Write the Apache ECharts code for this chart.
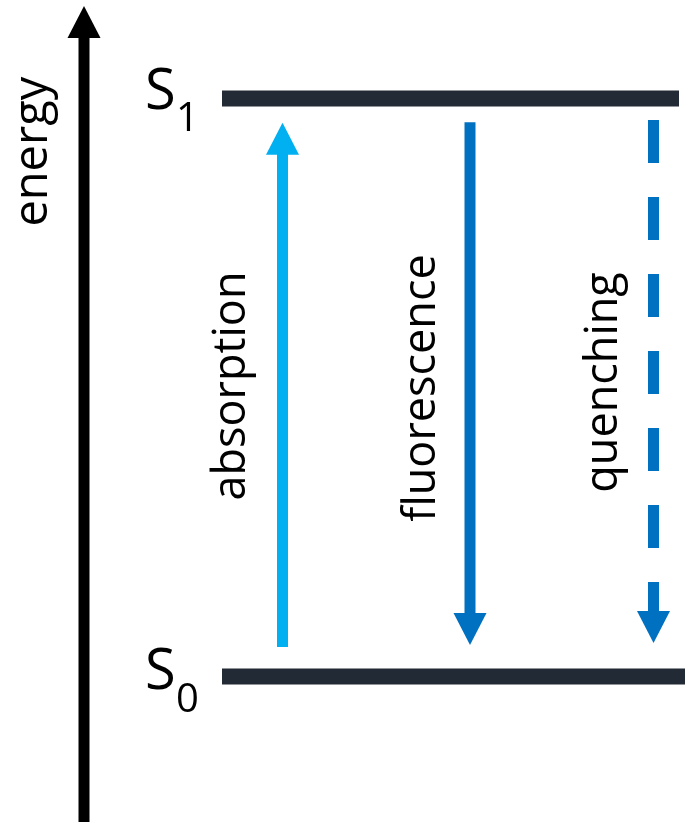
<!DOCTYPE html>
<html><head><meta charset="utf-8">
<script src="https://cdn.jsdelivr.net/npm/echarts@6/dist/echarts.min.js"></script>
<style>html,body{margin:0;padding:0;background:#fff}#c{width:685px;height:822px}</style>
</head><body><div id="c"></div>
<script>
// ---------- data ----------
const levelSymbols = ['S', 'S'];
const levelSubscripts = ['0', '1'];
const levelEnergies = [0, 1];
const transitionNames = ['absorption', 'fluorescence', 'quenching'];
const transitionFrom = [0.051, 0.959, 0.963];
const transitionTo = [0.958, 0.0545, 0.058];
const axisName = 'energy';
const axisFrom = -0.2517;
const axisTo = 1.160;

// ---------- layout / style ----------
const yMin = -0.2517, yMax = 1.1704;
const levelXStart = [222, 222];
const levelXEnd = [685, 679];
const levelColor = '#222a35';
const levelWidth = 16;
const transitionX = [282.5, 470, 653.5];
const transitionColor = ['#00b0f0', '#0070c0', '#0070c0'];
const transitionDash = [null, null, [43, 34]];
const transitionLabelX = [232, 422, 604];
const transitionLabelE = [0.5026, 0.4991, 0.5087];
const shaftWidth = 11, headLen = 32, headW = 33;
const axisX = 84, axisLabelX = 34, axisLabelE = 0.908;
const FONT = '"Open Sans", "Noto Sans", sans-serif';

function arrow(api, x, e0, e1, color, dash) {
  const p0 = api.coord([x, e0]);
  const p1 = api.coord([x, e1]);
  const dir = p1[1] > p0[1] ? 1 : -1;
  const baseY = p1[1] - dir * headLen;
  return [
    {type: 'line', shape: {x1: p0[0], y1: p0[1], x2: p1[0], y2: baseY + dir * 1},
     style: {stroke: color, lineWidth: shaftWidth, lineDash: dash || null, lineCap: 'butt'}},
    {type: 'polygon', shape: {points: [[p1[0] - headW / 2, baseY], [p1[0] + headW / 2, baseY], [p1[0], p1[1]]]},
     style: {fill: color}}
  ];
}

const chart = echarts.init(document.getElementById('c'), null, {renderer: 'canvas'});
chart.setOption({
  animation: false,
  backgroundColor: '#ffffff',
  grid: {left: 0, right: 0, top: 0, bottom: 0},
  xAxis: {type: 'value', min: 0, max: 685, show: false},
  yAxis: {type: 'value', min: yMin, max: yMax, show: false},
  series: [
    {
      type: 'custom', clip: false,
      data: levelEnergies.map((e, i) => [i, e]),
      renderItem: function (params, api) {
        const i = api.value(0), e = api.value(1);
        const a = api.coord([levelXStart[i], e]);
        const b = api.coord([levelXEnd[i], e]);
        return {type: 'group', children: [
          {type: 'line', shape: {x1: a[0], y1: a[1], x2: b[0], y2: b[1]},
           style: {stroke: levelColor, lineWidth: levelWidth}},
          {type: 'text', x: 145, y: a[1] - 5 + (i === 0 ? 1.5 : 0),
           style: {text: levelSymbols[i], fontSize: 56, fontFamily: FONT, fill: '#000', align: 'left', verticalAlign: 'middle'}},
          {type: 'text', x: 187.5, y: a[1] + 21.5 + (i === 0 ? 3 : 0),
           style: {text: levelSubscripts[i], fontSize: 40, fontFamily: FONT, fill: '#000', align: 'center', verticalAlign: 'middle'}}
        ]};
      }
    },
    {
      type: 'custom', clip: false,
      data: transitionNames.map((n, i) => [i, transitionFrom[i], transitionTo[i]]),
      renderItem: function (params, api) {
        const i = api.value(0);
        const children = arrow(api, transitionX[i], api.value(1), api.value(2), transitionColor[i], transitionDash[i]);
        const lp = api.coord([transitionLabelX[i], transitionLabelE[i]]);
        children.push({type: 'text', x: lp[0], y: lp[1], rotation: Math.PI / 2,
          style: {text: transitionNames[i], fontSize: 45, fontFamily: FONT, fill: '#000', align: 'center', verticalAlign: 'middle'}});
        return {type: 'group', children: children};
      }
    },
    {
      type: 'custom', clip: false,
      data: [[axisFrom, axisTo]],
      renderItem: function (params, api) {
        const children = arrow(api, axisX, api.value(0), api.value(1), '#000', null);
        const lp = api.coord([axisLabelX, axisLabelE]);
        children.push({type: 'text', x: lp[0], y: lp[1], rotation: Math.PI / 2,
          style: {text: axisName, fontSize: 47, fontFamily: FONT, fill: '#000', align: 'center', verticalAlign: 'middle'}});
        return {type: 'group', children: children};
      }
    }
  ]
});
</script></body></html>
